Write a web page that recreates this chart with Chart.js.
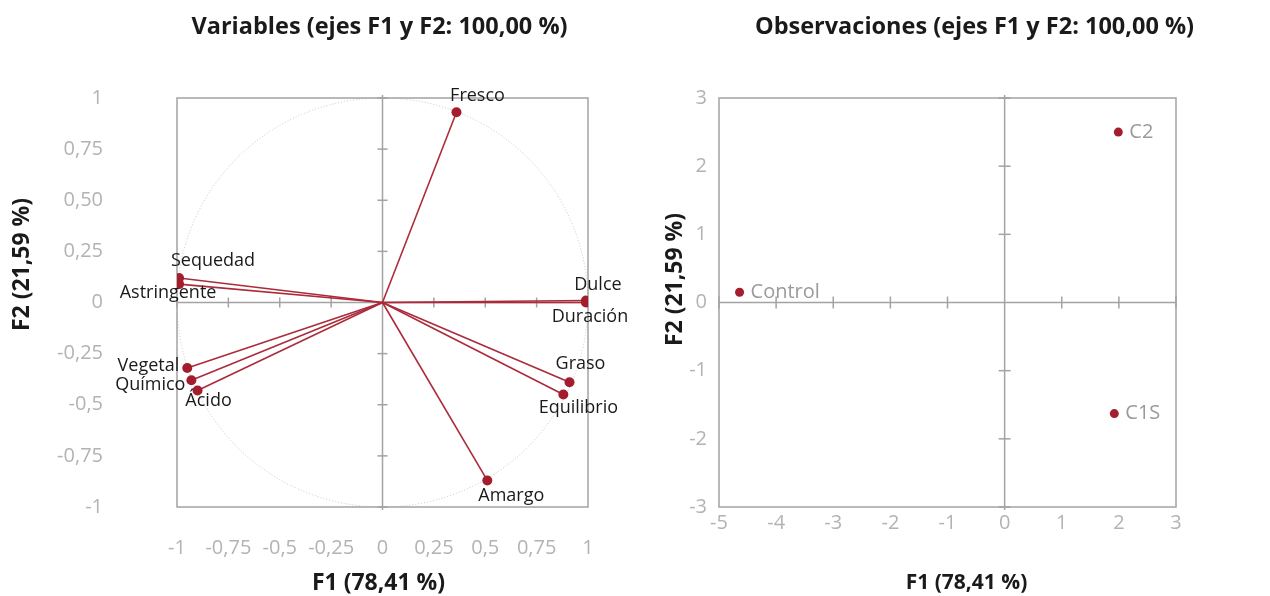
<!DOCTYPE html>
<html lang="es">
<head>
<meta charset="utf-8">
<title>Análisis de componentes principales</title>
<script src="https://cdn.jsdelivr.net/npm/chart.js@4/dist/chart.umd.min.js"></script>
<style>
  html, body { margin: 0; padding: 0; background: #fff; width: 1270px; height: 596px; overflow: hidden; }
  .panel { position: absolute; top: 0; width: 635px; height: 596px; }
  #panelVariables { left: 0; }
  #panelObservaciones { left: 635px; }
</style>
</head>
<body>
<div class="panel" id="panelVariables"><canvas id="chartVariables" width="635" height="596"></canvas></div>
<div class="panel" id="panelObservaciones"><canvas id="chartObservaciones" width="635" height="596"></canvas></div>
<script>
// ---- Data -----------------------------------------------------------------
// Correlations of each sensory variable with factors F1 and F2
const variableNames = ['Fresco', 'Sequedad', 'Astringente', 'Dulce', 'Duración',
                       'Vegetal', 'Químico', 'Ácido', 'Graso', 'Equilibrio', 'Amargo'];
const variableF1 = [0.36, -0.99, -0.99, 0.99, 0.99, -0.95, -0.93, -0.90, 0.91, 0.88, 0.51];
const variableF2 = [0.93, 0.12, 0.09, 0.01, 0.00, -0.32, -0.38, -0.43, -0.39, -0.45, -0.87];

// Factor scores of each sample
const observationNames = ['C2', 'Control', 'C1S'];
const observationF1 = [1.99, -4.64, 1.92];
const observationF2 = [2.50, 0.15, -1.63];

// Tick values and their printed labels
const loadingTickValues = [-1, -0.75, -0.5, -0.25, 0, 0.25, 0.5, 0.75, 1];
const loadingXTickLabels = ['-1', '-0,75', '-0,5', '-0,25', '0', '0,25', '0,5', '0,75', '1'];
const loadingYTickLabels = ['-1', '-0,75', '-0,5', '-0,25', '0', '0,25', '0,50', '0,75', '1'];
const scoreXTickValues = [-5, -4, -3, -2, -1, 0, 1, 2, 3];
const scoreXTickLabels = ['-5', '-4', '-3', '-2', '-1', '0', '1', '2', '3'];
const scoreYTickValues = [-3, -2, -1, 0, 1, 2, 3];
const scoreYTickLabels = ['-3', '-2', '-1', '0', '1', '2', '3'];

// ---- Styling --------------------------------------------------------------
const FONT = '"Open Sans", "Noto Sans", sans-serif';
const VECTOR_RED = '#ab2b3b';
const DOT_RED = '#a31d2d';
const FRAME_GREY = '#a3a3a3';
const TICK_GREY = '#b3b3b3';

// Where each variable name sits relative to its arrow tip (pixels)
const variableLabelPlacement = [
  { dx: 21,  dy: -16, align: 'center' },  // Fresco
  { dx: 34,  dy: -17, align: 'center' },  // Sequedad
  { dx: -11, dy: 9,   align: 'center' },  // Astringente
  { dx: 12,  dy: -16, align: 'center' },  // Dulce
  { dx: 4,   dy: 14,  align: 'center' },  // Duración
  { dx: -8,  dy: -2,  align: 'right' },   // Vegetal
  { dx: -6,  dy: 5,   align: 'right' },   // Químico
  { dx: 11,  dy: 10,  align: 'center' },  // Ácido
  { dx: 11,  dy: -18, align: 'center' },  // Graso
  { dx: 15,  dy: 13,  align: 'center' },  // Equilibrio
  { dx: 24,  dy: 15,  align: 'center' }   // Amargo
];
const observationLabelPlacement = observationNames.map(() => ({ dx: 11, dy: 0, align: 'left' }));

// ---- Plugins --------------------------------------------------------------
// Boxed plot area, axes crossing at the origin with small cross ticks,
// and optionally the unit correlation circle.
const framePlugin = {
  id: 'pcaFrame',
  beforeDatasetsDraw(chart, args, opts) {
    const { ctx, chartArea: a, scales: { x, y } } = chart;
    const x0 = x.getPixelForValue(0);
    const y0 = y.getPixelForValue(0);
    ctx.save();
    if (opts.circle) {
      ctx.beginPath();
      ctx.setLineDash([1, 2]);
      ctx.strokeStyle = '#c4c4c4';
      ctx.lineWidth = 1;
      ctx.ellipse(x0, y0, x.getPixelForValue(1) - x0, y0 - y.getPixelForValue(1), 0, 0, Math.PI * 2);
      ctx.stroke();
      ctx.setLineDash([]);
    }
    ctx.strokeStyle = FRAME_GREY;
    ctx.lineWidth = 1.5;
    ctx.strokeRect(a.left, a.top, a.width, a.height);
    const seg = (x1, y1, x2, y2) => { ctx.beginPath(); ctx.moveTo(x1, y1); ctx.lineTo(x2, y2); ctx.stroke(); };
    seg(a.left, y0, a.right, y0);
    seg(x0, a.top - 3, x0, a.bottom + 3);
    const len = opts.tickLength;
    x.ticks.forEach(t => {
      if (t.value === 0) return;
      const px = x.getPixelForValue(t.value);
      seg(px, y0 - len, px, y0 + len);
    });
    y.ticks.forEach(t => {
      if (t.value === 0) return;
      const py = y.getPixelForValue(t.value);
      seg(x0 - len, py, x0 + len, py);
    });
    ctx.restore();
  }
};

// Names written next to the points
const pointNamesPlugin = {
  id: 'pointNames',
  afterDatasetsDraw(chart, args, opts) {
    const { ctx } = chart;
    ctx.save();
    ctx.font = opts.font;
    ctx.fillStyle = opts.color;
    ctx.textBaseline = 'middle';
    opts.names.forEach((name, i) => {
      const el = opts.element(chart, i);
      const p = opts.placement[i];
      ctx.textAlign = p.align;
      ctx.fillText(name, el.x + p.dx, el.y + p.dy);
    });
    ctx.restore();
  }
};

// Panel heading and the two axis captions
const captionsPlugin = {
  id: 'captions',
  afterDraw(chart, args, opts) {
    const { ctx, chartArea: a } = chart;
    const midX = (a.left + a.right) / 2;
    const midY = (a.top + a.bottom) / 2;
    ctx.save();
    ctx.fillStyle = '#1a1a1a';
    ctx.textAlign = 'center';
    ctx.textBaseline = 'middle';
    ctx.font = 'bold ' + opts.headingSize + 'px ' + FONT;
    ctx.fillText(opts.heading, midX + opts.headingShift, opts.headingY);
    ctx.font = 'bold ' + opts.xTitleSize + 'px ' + FONT;
    ctx.fillText(opts.xTitle, midX + opts.xTitleShift, opts.xTitleY);
    ctx.font = 'bold ' + opts.yTitleSize + 'px ' + FONT;
    ctx.translate(opts.yTitleX, midY + opts.yTitleShift);
    ctx.rotate(-Math.PI / 2);
    ctx.fillText(opts.yTitle, 0, 0);
    ctx.restore();
  }
};

// ---- Axis builder ---------------------------------------------------------
function linearAxis({ min, max, values, labels, horizontal, size, tickPadding }) {
  return {
    type: 'linear',
    min, max,
    grid: { display: false, drawTicks: false },
    border: { display: false },
    afterBuildTicks: s => { s.ticks = values.map(v => ({ value: v })); },
    afterFit: s => { if (horizontal) { s.height = size; } else { s.width = size; } },
    ticks: {
      autoSkip: false,
      maxRotation: 0,
      padding: tickPadding,
      color: TICK_GREY,
      font: { family: FONT, size: 20 },
      callback: v => labels[values.indexOf(v)]
    },
    title: { display: false }
  };
}

const commonOptions = {
  responsive: false,
  animation: false,
  events: [],
};

// ---- Variables panel (correlation circle) ----------------------------------
new Chart(document.getElementById('chartVariables'), {
  type: 'scatter',
  data: {
    datasets: variableNames.map((name, i) => ({
      label: name,
      data: [{ x: 0, y: 0 }, { x: variableF1[i], y: variableF2[i] }],
      showLine: true,
      borderColor: VECTOR_RED,
      borderWidth: 1.6,
      pointRadius: [0, 5],
      pointBackgroundColor: DOT_RED,
      pointBorderWidth: 0
    }))
  },
  options: {
    ...commonOptions,
    layout: { padding: { top: 98, right: 47, bottom: 0, left: 0 } },
    scales: {
      x: linearAxis({ min: -1, max: 1, values: loadingTickValues, labels: loadingXTickLabels,
                      horizontal: true, size: 89, tickPadding: 29 }),
      y: linearAxis({ min: -1, max: 1, values: loadingTickValues, labels: loadingYTickLabels,
                      horizontal: false, size: 177, tickPadding: 74 })
    },
    plugins: {
      legend: { display: false },
      tooltip: { enabled: false },
      pcaFrame: { circle: true, tickLength: 5 },
      pointNames: {
        names: variableNames,
        placement: variableLabelPlacement,
        font: '18px ' + FONT,
        color: '#1a1a1a',
        element: (chart, i) => chart.getDatasetMeta(i).data[1]
      },
      captions: {
        heading: 'Variables (ejes F1 y F2: 100,00 %)', headingSize: 23.5, headingShift: -3, headingY: 27,
        xTitle: 'F1 (78,41 %)', xTitleSize: 23, xTitleShift: -4, xTitleY: 583,
        yTitle: 'F2 (21,59 %)', yTitleSize: 23, yTitleX: 22, yTitleShift: -38
      }
    }
  },
  plugins: [framePlugin, pointNamesPlugin, captionsPlugin]
});

// ---- Observations panel (score plot) ---------------------------------------
new Chart(document.getElementById('chartObservaciones'), {
  type: 'scatter',
  data: {
    datasets: [{
      label: 'Observaciones',
      data: observationNames.map((n, i) => ({ x: observationF1[i], y: observationF2[i] })),
      pointRadius: 4.5,
      pointBackgroundColor: DOT_RED,
      pointBorderWidth: 0
    }]
  },
  options: {
    ...commonOptions,
    layout: { padding: { top: 98, right: 94, bottom: 0, left: 0 } },
    scales: {
      x: linearAxis({ min: -5, max: 3, values: scoreXTickValues, labels: scoreXTickLabels,
                      horizontal: true, size: 89, tickPadding: 4 }),
      y: linearAxis({ min: -3, max: 3, values: scoreYTickValues, labels: scoreYTickLabels,
                      horizontal: false, size: 84, tickPadding: 12 })
    },
    plugins: {
      legend: { display: false },
      tooltip: { enabled: false },
      pcaFrame: { circle: false, tickLength: 6 },
      pointNames: {
        names: observationNames,
        placement: observationLabelPlacement,
        font: '20px ' + FONT,
        color: '#9a9a9a',
        element: (chart, i) => chart.getDatasetMeta(0).data[i]
      },
      captions: {
        heading: 'Observaciones (ejes F1 y F2: 100,00 %)', headingSize: 23.5, headingShift: 27, headingY: 27,
        xTitle: 'F1 (78,41 %)', xTitleSize: 21, xTitleShift: 19, xTitleY: 583,
        yTitle: 'F2 (21,59 %)', yTitleSize: 23, yTitleX: 40, yTitleShift: -23
      }
    }
  },
  plugins: [framePlugin, pointNamesPlugin, captionsPlugin]
});
</script>
</body>
</html>
